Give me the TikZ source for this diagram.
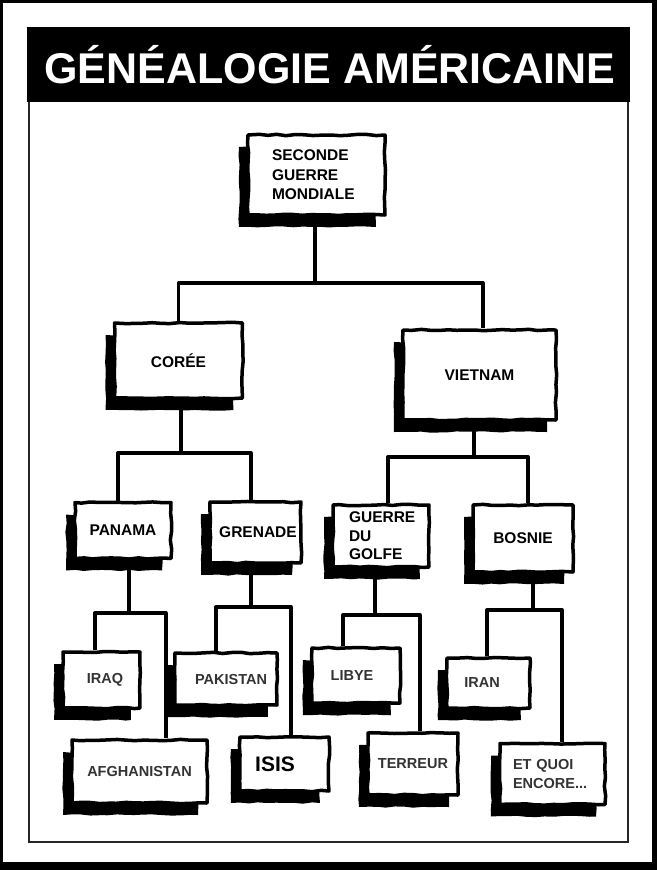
\documentclass[tikz,border=0pt]{standalone}
\usepackage{fontspec}
\setmainfont{Liberation Sans}
\usetikzlibrary{shadows,decorations.pathmorphing,calc}
\begin{document}
\pgfmathsetseed{7}
\tikzset{
  box/.style={draw=black, line width=3.5pt, line join=round, fill=white, inner sep=0pt,
    font=\bfseries\fontsize{15.5}{19.5}\selectfont, text=black,
    general shadow={fill=black, shadow xshift=-9pt, shadow yshift=-12pt},
    decorate, decoration={random steps, segment length=9pt, amplitude=0.7pt}},
  small/.style={font=\bfseries\fontsize{14.5}{19}\selectfont, text=black!80},
  conn/.style={line width=3.3pt, line join=round, draw=black},
  titlefont/.style={font=\bfseries\fontsize{43}{43}\selectfont, text=white, inner sep=0pt}
}
\begin{tikzpicture}[x=1pt, y=-1pt]
\useasboundingbox (0,0) rectangle (657,870);
% frame
\fill[black] (0,0) rectangle (657,870);
\fill[white] (3,3) rectangle (652,862);
\draw[line width=2.8pt, black!85] (29,28) rectangle (628,842);
\fill[black] (27,27) rectangle (630,102);
\node[titlefont, anchor=base] (title) at (330,83) {GÉNÉALOGIE AMÉRICAINE};

% level 0
\node[box, minimum width=137pt, minimum height=80pt, align=left, text width=89pt] (ww2) at (316.5,175) {SECONDE\\GUERRE\\MONDIALE};
% level 1
\node[box, minimum width=128pt, minimum height=75pt] (coree) at (178.5,360.5) {CORÉE};
\node[box, minimum width=153pt, minimum height=90pt] (vietnam) at (479.5,375) {VIETNAM};
% level 2
\node[box, minimum width=96pt, minimum height=56pt] (panama) at (123,530.5) {PANAMA};
\node[box, minimum width=91pt, minimum height=61pt] (grenade) at (255.5,532.5) {\hspace*{5pt}GRENADE};
\node[box, minimum width=96pt, minimum height=62pt, align=left, text width=64pt, font=\bfseries\fontsize{15.5}{18.5}\selectfont] (golfe) at (381,536) {GUERRE\\DU\\GOLFE};
\node[box, minimum width=100pt, minimum height=67pt] (bosnie) at (523,538.5) {BOSNIE};
% level 3
\node[box, small, minimum width=77pt, minimum height=56pt] (iraq) at (101.5,680) {\hspace*{7pt}IRAQ};
\node[box, small, minimum width=135pt, minimum height=63pt] (afgh) at (139.5,771.5) {AFGHANISTAN};
\node[box, small, minimum width=102pt, minimum height=52pt] (pak) at (226,679) {\hspace*{10pt}PAKISTAN};
\node[box, minimum width=89pt, minimum height=54pt, font=\bfseries\fontsize{21}{21}\selectfont] (isis) at (284.5,764) {\hspace*{-19pt}ISIS};
\node[box, small, minimum width=88pt, minimum height=55pt] (libye) at (356,675.5) {\hspace*{-8pt}LIBYE};
\node[box, small, minimum width=90pt, minimum height=62pt] (terreur) at (413,764) {TERREUR};
\node[box, small, minimum width=83pt, minimum height=50pt] (iran) at (488.5,683) {\hspace*{-13pt}IRAN};
\node[box, small, minimum width=105pt, minimum height=61pt, align=left, text width=79pt] (etquoi) at (552.5,774) {ET QUOI\\ENCORE...};

% connectors
\coordinate (j0) at (315,283);
\draw[conn] (j0 |- ww2.south) -- (j0);
\draw[conn] (coree.north) |- (j0) -| ([xshift=3.5pt]vietnam.north);

\coordinate (j1) at (181,453);
\draw[conn] (j1 |- coree.south) -- (j1);
\draw[conn] ([xshift=-5pt]panama.north) |- (j1) -| ([xshift=-4.5pt]grenade.north);

\coordinate (j2) at (474,457);
\draw[conn] (j2 |- vietnam.south) -- (j2);
\draw[conn] ([xshift=7pt]golfe.north) |- (j2) -| ([xshift=5pt]bosnie.north);

\coordinate (j3) at (129,613);
\draw[conn] (j3 |- panama.south) -- (j3);
\draw[conn] ([xshift=-6.5pt]iraq.north) |- (j3) -| ([xshift=26.5pt]afgh.north);

\coordinate (j4) at (251,607);
\draw[conn] (j4 |- grenade.south) -- (j4);
\draw[conn] ([xshift=-10pt]pak.north) |- (j4) -| ([xshift=6.5pt]isis.north);

\coordinate (j5) at (375,615);
\draw[conn] (j5 |- golfe.south) -- (j5);
\draw[conn] ([xshift=-13pt]libye.north) |- (j5) -| ([xshift=7pt]terreur.north);

\coordinate (j6) at (533,610);
\draw[conn] (j6 |- bosnie.south) -- (j6);
\draw[conn] ([xshift=-1.5pt]iran.north) |- (j6) -| ([xshift=9.5pt]etquoi.north);
\end{tikzpicture}
\end{document}
